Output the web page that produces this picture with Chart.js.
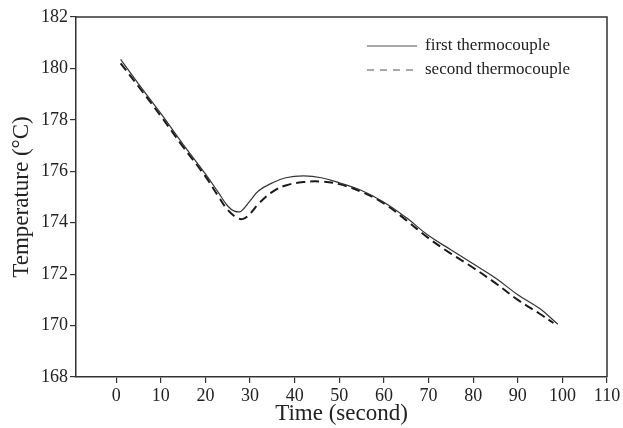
<!DOCTYPE html>
<html>
<head>
<meta charset="utf-8">
<script src="https://cdn.jsdelivr.net/npm/chart.js@4.4.0/dist/chart.umd.min.js"></script>
<style>
  html, body { margin: 0; padding: 0; background: #fff; }
  #wrap { width: 623px; height: 428px; position: relative; }
</style>
</head>
<body>
<div id="wrap"><canvas id="myChart"></canvas></div>
<script>
// readings taken off the plot
var timeFirst = [1, 5, 10, 15, 20, 23, 25, 26.5, 28, 30, 32, 35, 38, 42, 46, 50, 55, 60, 65, 70, 75, 80, 85, 90, 95, 99];
var tempFirst = [180.35, 179.4, 178.25, 177.05, 175.9, 175.15, 174.65, 174.45, 174.45, 174.85, 175.25, 175.55, 175.75, 175.82, 175.75, 175.55, 175.25, 174.8, 174.2, 173.5, 172.95, 172.4, 171.85, 171.2, 170.65, 170.05];

var timeSecond = [1, 5, 10, 15, 20, 23, 25, 27, 28.5, 30, 32, 35, 38, 42, 46, 50, 55, 60, 65, 70, 75, 80, 85, 90, 95, 98];
var tempSecond = [180.2, 179.3, 178.15, 176.95, 175.8, 175.0, 174.5, 174.2, 174.15, 174.35, 174.75, 175.2, 175.45, 175.58, 175.6, 175.5, 175.2, 174.75, 174.1, 173.4, 172.8, 172.25, 171.65, 171.0, 170.45, 170.1];

var xTicks = [0, 10, 20, 30, 40, 50, 60, 70, 80, 90, 100, 110];
var seriesNames = ["first thermocouple", "second thermocouple"];

function pairs(xs, ys) {
    return xs.map(function (x, i) { return { x: x, y: ys[i] }; });
}

var serif = "'Liberation Serif', 'DejaVu Serif', serif";

// frame on top/right + legend inside the plot
var extras = {
    id: 'extras',
    afterDraw: function (chart) {
        var c = chart.ctx, a = chart.chartArea;
        c.save();
        c.strokeStyle = '#333';
        c.lineWidth = 1.5;
        c.beginPath();
        c.moveTo(a.left, a.top);
        c.lineTo(a.right, a.top);
        c.lineTo(a.right, a.bottom);
        c.stroke();

        c.font = '17px ' + serif;
        c.fillStyle = '#222';
        c.textBaseline = 'middle';
        var legendDash = [[], [7, 6]];
        chart.data.datasets.forEach(function (ds, i) {
            var y = 46 + i * 24;
            c.strokeStyle = '#555';
            c.lineWidth = 1.2;
            c.setLineDash(legendDash[i]);
            c.beginPath();
            c.moveTo(367, y);
            c.lineTo(417, y);
            c.stroke();
            c.setLineDash([]);
            c.fillText(ds.label, 425, y);
        });
        c.restore();
    }
};

var ctx = document.getElementById('myChart').getContext('2d');
var chart = new Chart(ctx, {
    type: 'line',
    data: {
        datasets: [{
            label: seriesNames[0],
            data: pairs(timeFirst, tempFirst),
            borderColor: '#333',
            borderWidth: 1.2,
            pointRadius: 0,
            fill: false,
            tension: 0.4
        }, {
            label: seriesNames[1],
            data: pairs(timeSecond, tempSecond),
            borderColor: '#1a1a1a',
            borderWidth: 2,
            borderDash: [9, 5],
            pointRadius: 0,
            fill: false,
            tension: 0.4
        }]
    },
    options: {
        responsive: true,
        maintainAspectRatio: false,
        animation: false,
        layout: { padding: { top: 17, right: 16, left: 0, bottom: 0 } },
        plugins: {
            legend: { display: false },
            tooltip: { enabled: false }
        },
        scales: {
            x: {
                type: 'linear',
                min: -9,
                max: 110,
                afterBuildTicks: function (scale) {
                    scale.ticks = xTicks.map(function (v) { return { value: v }; });
                },
                afterFit: function (scale) { scale.height = 51; },
                grid: { drawOnChartArea: false, drawTicks: true, tickLength: 6, color: '#333', lineWidth: 1.2 },
                border: { display: true, color: '#333', width: 1.5 },
                ticks: { color: '#222', font: { family: serif, size: 18 }, padding: 2, maxRotation: 0, autoSkip: false },
                title: { display: true, text: 'Time (second)', color: '#222', font: { family: serif, size: 23 }, padding: { top: 0, bottom: 0 } }
            },
            y: {
                min: 168,
                max: 182,
                afterFit: function (scale) { scale.width = 76; },
                grid: { drawOnChartArea: false, drawTicks: true, tickLength: 6, color: '#333', lineWidth: 1.2 },
                border: { display: true, color: '#333', width: 1.5 },
                ticks: { stepSize: 2, color: '#222', font: { family: serif, size: 18 }, padding: 2 },
                title: { display: true, text: 'Temperature (\u00B0C)', color: '#222', font: { family: serif, size: 23 }, padding: { top: 8, bottom: 0 } }
            }
        }
    },
    plugins: [extras]
});
</script>
</body>
</html>
